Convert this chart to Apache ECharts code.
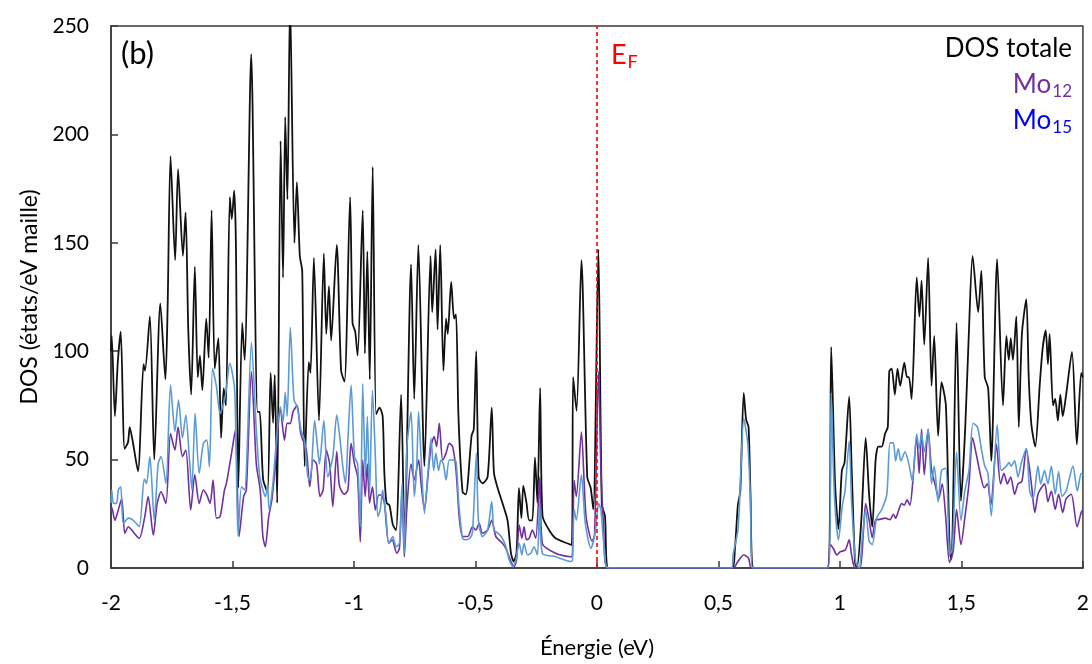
<!DOCTYPE html>
<html>
<head>
<meta charset="utf-8">
<script src="https://cdn.jsdelivr.net/npm/echarts@6/dist/echarts.min.js"></script>
<style>
html,body{margin:0;padding:0;background:#fff;}
#chart{width:1092px;height:664px;}
</style>
</head>
<body>
<div id="chart"></div>
<script>
// Energy (eV), DOS (états/eV maille) pairs
var xTicks = [-2, -1.5, -1, -0.5, 0, 0.5, 1, 1.5, 2];
var yTicks = [0, 50, 100, 150, 200, 250];

var dosTotale = [
[-2.0,100],[-1.997,107],[-1.984,70],[-1.972,95],[-1.960,109],[-1.944,55],[-1.930,58],[-1.923,65],[-1.910,58],[-1.889,44.7],
[-1.866,94],[-1.860,91],[-1.840,116],[-1.822,50],[-1.797,122],[-1.776,87],[-1.767,120],[-1.755,190],[-1.736,142],[-1.724,184],
[-1.704,144],[-1.693,164],[-1.682,110],[-1.670,80],[-1.655,139],[-1.643,88],[-1.634,98],[-1.624,82],[-1.608,115],[-1.598,97],
[-1.586,165],[-1.573,92],[-1.558,106],[-1.547,60],[-1.536,83],[-1.527,75],[-1.511,171],[-1.503,161],[-1.493,174],[-1.486,150],
[-1.476,37],[-1.460,113],[-1.450,96],[-1.423,237],[-1.397,72],[-1.388,72],[-1.374,41],[-1.356,35],[-1.343,90],[-1.333,67],
[-1.326,89],[-1.316,30],[-1.302,197],[-1.292,134],[-1.283,208],[-1.274,170],[-1.263,262],[-1.245,150],[-1.235,178],[-1.223,144],
[-1.213,137],[-1.203,47],[-1.186,95],[-1.179,90],[-1.165,143],[-1.144,68],[-1.124,145],[-1.114,108],[-1.103,130],[-1.094,105],
[-1.071,149],[-1.053,91],[-1.039,86],[-1.016,171],[-1.006,113],[-0.995,109],[-0.985,98],[-0.964,165],[-0.955,99],[-0.945,146],
[-0.935,87],[-0.923,185],[-0.909,71],[-0.895,74],[-0.882,70],[-0.875,44],[-0.866,30],[-0.854,29],[-0.840,20],[-0.827,17.5],
[-0.806,80],[-0.792,13],[-0.765,140],[-0.752,78],[-0.735,149],[-0.710,47],[-0.685,144],[-0.678,118],[-0.664,147],[-0.656,110],
[-0.645,149],[-0.632,91],[-0.621,115],[-0.614,108],[-0.600,132],[-0.588,115],[-0.580,117],[-0.570,70],[-0.553,35],[-0.540,34],
[-0.516,61],[-0.507,64],[-0.497,100],[-0.487,42],[-0.471,39],[-0.450,42],[-0.433,74],[-0.424,44],[-0.409,37],[-0.389,30],
[-0.368,22],[-0.354,7],[-0.343,3],[-0.331,7],[-0.321,37],[-0.311,23],[-0.303,38],[-0.290,30],[-0.279,22],[-0.266,22],
[-0.255,51],[-0.245,30],[-0.234,83],[-0.224,24],[-0.197,17.5],[-0.170,13.7],[-0.104,10.6],[-0.098,88],[-0.084,72.5],[-0.064,142],
[-0.040,42],[-0.026,37],[-0.015,27],[0.006,147],[0.020,29],[0.033,24],[0.047,0],[0.556,0],[0.567,7.5],[0.580,29],
[0.590,35.5],[0.604,80.8],[0.614,68.4],[0.624,65],[0.632,33.8],[0.645,0],[0.950,0],[0.964,102],[0.980,38.8],[0.994,18],
[1.008,45],[1.019,48.6],[1.038,79],[1.048,47],[1.062,2.6],[1.070,0],[1.088,22],[1.106,60],[1.120,34],[1.133,19],
[1.147,50],[1.158,56],[1.172,56],[1.186,62],[1.197,65],[1.203,90.6],[1.213,92],[1.226,80],[1.237,92],[1.248,84],
[1.265,94.7],[1.276,88],[1.284,88],[1.295,78],[1.316,134],[1.327,116],[1.336,132.5],[1.347,103],[1.363,143],[1.377,84],
[1.388,107],[1.404,61],[1.418,85.7],[1.436,75],[1.452,7.5],[1.459,4],[1.480,113],[1.498,31],[1.515,63],[1.531,109.6],
[1.546,144],[1.569,118],[1.582,137],[1.596,88],[1.610,83],[1.623,49.4],[1.647,142.5],[1.671,75],[1.685,107],[1.695,96],
[1.703,106],[1.712,96],[1.726,116],[1.736,65],[1.749,108],[1.767,124],[1.777,88],[1.788,66],[1.804,56],[1.822,84],
[1.834,101],[1.847,109.6],[1.856,94],[1.863,108],[1.877,75],[1.886,78],[1.897,68],[1.907,80],[1.917,70],[1.931,80],
[1.955,99.7],[1.975,57],[1.993,90],[2.0,88]
];

var dosMo12 = [
[-2.0,26],[-1.997,28],[-1.984,22],[-1.970,26.8],[-1.956,32],[-1.943,16],[-1.928,19],[-1.915,17.5],[-1.884,13.7],[-1.861,23.7],
[-1.847,33],[-1.826,15.2],[-1.810,29.8],[-1.794,35.2],[-1.774,29.8],[-1.755,62],[-1.737,54.4],[-1.724,65],[-1.706,51.4],[-1.692,54.4],
[-1.672,26.8],[-1.655,43],[-1.637,29.8],[-1.620,36],[-1.606,33.7],[-1.592,29.8],[-1.580,40.6],[-1.566,23],[-1.551,23.7],[-1.533,36],
[-1.525,39],[-1.506,51.4],[-1.488,63.7],[-1.473,14.5],[-1.454,33],[-1.443,36],[-1.422,90.6],[-1.402,48],[-1.386,36],[-1.375,14.5],
[-1.365,9.8],[-1.351,23.7],[-1.338,31.4],[-1.324,46.7],[-1.303,73.6],[-1.286,59],[-1.275,66.7],[-1.262,66.7],[-1.251,72],[-1.234,75],
[-1.219,62],[-1.196,54.4],[-1.182,37.5],[-1.168,49.8],[-1.154,48],[-1.140,33],[-1.127,36],[-1.114,54.4],[-1.100,48],[-1.087,28.3],
[-1.071,53.7],[-1.060,38],[-1.040,34],[-1.025,36],[-1.012,57.5],[-0.998,48],[-0.985,42],[-0.974,12],[-0.964,49.8],[-0.954,33],
[-0.945,48],[-0.936,30],[-0.924,37.5],[-0.912,26.8],[-0.898,33.7],[-0.888,33.7],[-0.875,30],[-0.857,11.4],[-0.843,13],[-0.824,6.8],
[-0.813,9],[-0.802,36],[-0.793,5.2],[-0.782,28.3],[-0.765,48],[-0.752,40.6],[-0.734,49.8],[-0.724,39],[-0.710,26.8],[-0.697,40.6],
[-0.683,56],[-0.670,60.6],[-0.660,56],[-0.649,66.7],[-0.635,49.8],[-0.621,53],[-0.608,57.5],[-0.594,56],[-0.580,45],[-0.567,23.7],
[-0.553,14.5],[-0.532,14.5],[-0.512,19],[-0.498,17.5],[-0.485,20.6],[-0.471,16],[-0.450,17.5],[-0.433,22],[-0.416,14.5],[-0.389,11.4],
[-0.375,9],[-0.354,3],[-0.341,0.6],[-0.331,3.7],[-0.320,19.8],[-0.309,13.7],[-0.300,19],[-0.290,13],[-0.279,13.7],[-0.266,17.5],
[-0.252,13.7],[-0.235,42],[-0.225,11.4],[-0.170,6.8],[-0.108,5.2],[-0.101,6],[-0.094,40.5],[-0.085,33],[-0.064,62.7],[-0.045,24],
[-0.020,12.4],[-0.010,15],[0.007,90.6],[0.016,47],[0.027,20],[0.043,0],[0.560,0],[0.580,3],[0.604,6],[0.624,4.5],
[0.637,0],[0.946,0],[0.960,10.8],[0.973,9],[0.987,6],[1.001,7.5],[1.022,8.3],[1.038,13],[1.048,6],[1.062,0],
[1.083,0],[1.097,17.4],[1.106,29.7],[1.120,22.3],[1.133,14],[1.147,22.3],[1.158,22.3],[1.186,23],[1.206,22.3],[1.220,24.8],
[1.229,23],[1.241,26.4],[1.254,29.7],[1.265,29],[1.276,31.4],[1.288,29],[1.300,40],[1.316,61],[1.326,43.7],[1.336,64],
[1.347,43],[1.363,64],[1.377,45.3],[1.391,38.8],[1.407,32],[1.421,38.8],[1.435,24],[1.451,2.6],[1.466,7.5],[1.480,27],
[1.498,10.8],[1.515,24],[1.531,38.8],[1.546,60],[1.562,52],[1.580,42],[1.594,37],[1.607,38.8],[1.621,29],[1.644,57],
[1.661,38.8],[1.675,43.7],[1.689,38.8],[1.703,42],[1.719,34],[1.733,38.8],[1.749,40],[1.767,55],[1.788,38.8],[1.802,25.6],
[1.815,34],[1.829,37],[1.843,38.8],[1.856,30.5],[1.870,35.5],[1.886,27],[1.900,34],[1.917,25.6],[1.931,32],[1.952,34],
[1.976,19],[1.993,25.6],[2.0,27]
];

var dosMo15 = [
[-2.0,30],[-1.997,36],[-1.990,29.8],[-1.977,29.8],[-1.970,36],[-1.960,37.5],[-1.949,20.6],[-1.928,23],[-1.908,22],[-1.884,19],
[-1.863,41],[-1.854,39],[-1.840,51.4],[-1.822,22],[-1.806,48],[-1.794,51.4],[-1.774,39],[-1.755,84.4],[-1.737,63],[-1.722,77.5],
[-1.706,60],[-1.692,70.6],[-1.678,51.4],[-1.667,36],[-1.654,71.3],[-1.637,43.7],[-1.620,57.5],[-1.606,59],[-1.595,46.7],[-1.582,92],
[-1.566,83.6],[-1.551,71.3],[-1.530,79],[-1.511,94.4],[-1.491,82],[-1.477,14.5],[-1.463,37.5],[-1.450,36],[-1.422,104],[-1.402,63.7],
[-1.388,42],[-1.375,36],[-1.364,33],[-1.356,38],[-1.349,26.8],[-1.335,37.5],[-1.303,74.4],[-1.292,67.5],[-1.283,81],[-1.275,70],
[-1.262,111],[-1.247,77.5],[-1.234,74.4],[-1.218,63.7],[-1.204,59],[-1.190,42],[-1.180,40.6],[-1.162,68],[-1.149,54.4],[-1.142,48],
[-1.124,68],[-1.108,42],[-1.087,51.4],[-1.071,70.6],[-1.057,59],[-1.046,46.7],[-1.035,39],[-1.025,59],[-1.012,84.4],[-0.998,51.4],
[-0.985,48],[-0.974,19],[-0.964,85],[-0.953,42],[-0.945,70],[-0.936,34.4],[-0.924,82],[-0.912,51.4],[-0.902,23.7],[-0.892,26.8],
[-0.882,36],[-0.868,23.7],[-0.857,11.4],[-0.840,14.5],[-0.827,9.8],[-0.813,11.4],[-0.802,39],[-0.793,6.8],[-0.782,56],[-0.765,72],
[-0.752,33],[-0.742,46.7],[-0.734,72],[-0.724,51.4],[-0.710,25.2],[-0.697,42],[-0.683,59.8],[-0.672,45],[-0.663,53],[-0.652,45],
[-0.642,49.8],[-0.632,48],[-0.621,40.6],[-0.608,49.8],[-0.594,49.8],[-0.580,49],[-0.569,30],[-0.553,13.7],[-0.539,13],[-0.523,13.7],
[-0.512,16.8],[-0.496,53],[-0.488,22],[-0.471,14.5],[-0.450,17.5],[-0.433,30.6],[-0.424,17.5],[-0.406,16],[-0.389,13.7],[-0.375,9.8],
[-0.361,3.7],[-0.345,0.6],[-0.334,3.7],[-0.320,11.4],[-0.309,6],[-0.300,11.4],[-0.286,6],[-0.272,6.8],[-0.259,9.8],[-0.245,6],
[-0.236,30],[-0.225,6.8],[-0.170,5.2],[-0.108,3],[-0.101,3.5],[-0.094,27],[-0.085,22],[-0.064,43],[-0.048,20.7],[-0.025,9],
[-0.008,16],[0.007,29.7],[0.016,27],[0.030,9],[0.047,0],[0.556,0],[0.560,6],[0.580,17.5],[0.590,38.7],[0.604,69],
[0.621,57],[0.632,30],[0.641,0],[0.952,0],[0.964,80.7],[0.977,34],[0.994,13],[1.010,29],[1.021,35.5],[1.038,58.5],
[1.048,30.5],[1.065,2.6],[1.079,0],[1.092,14],[1.106,27],[1.120,12.4],[1.133,10.8],[1.151,23],[1.172,27],[1.193,34],
[1.206,57.7],[1.220,57.7],[1.229,49.4],[1.240,55],[1.251,49.4],[1.268,53.6],[1.284,47.8],[1.298,40],[1.316,61.8],[1.326,55],
[1.336,61.8],[1.347,53.6],[1.363,64],[1.377,38.8],[1.388,47],[1.404,30.5],[1.418,45],[1.436,46],[1.452,6],[1.463,9],
[1.480,53.6],[1.498,22],[1.514,35.5],[1.531,45],[1.548,66.8],[1.566,65],[1.582,55],[1.596,47],[1.609,43.7],[1.623,24],
[1.647,66],[1.664,45],[1.685,47],[1.696,48.6],[1.705,47],[1.719,49.4],[1.733,42],[1.747,48.6],[1.767,55],[1.781,35.5],
[1.795,32],[1.815,47],[1.826,38.8],[1.842,45],[1.856,38.8],[1.870,47],[1.886,34],[1.900,44.5],[1.914,33],[1.931,35.5],
[1.959,47],[1.977,35.5],[1.993,43.7],[2.0,43]
];

var fermiEnergy = 0;

var FONT = 'Lato, "Open Sans", sans-serif';
var chart = echarts.init(document.getElementById('chart'), null, {renderer: 'canvas'});
var frame = '#3a3a3a';

chart.setOption({
  animation: false,
  backgroundColor: '#ffffff',
  grid: {left: 111, right: 7, top: 26, bottom: 96, show: true, borderColor: frame, borderWidth: 1.5, backgroundColor: 'transparent'},
  xAxis: {
    type: 'value', min: xTicks[0], max: xTicks[xTicks.length - 1], interval: 0.5,
    axisLine: {show: true, onZero: false, lineStyle: {color: frame, width: 1.5}},
    axisTick: {show: true, inside: true, length: 7, lineStyle: {color: frame, width: 1.5}},
    splitLine: {show: false},
    axisLabel: {margin: 25, color: '#000', fontSize: 21, fontFamily: FONT,
      formatter: function (v) { return String(v).replace('.', ','); }},
    name: 'Énergie (eV)', nameLocation: 'middle', nameGap: 69,
    nameTextStyle: {color: '#000', fontSize: 22, fontFamily: FONT}
  },
  yAxis: {
    type: 'value', min: yTicks[0], max: yTicks[yTicks.length - 1], interval: 50,
    axisLine: {show: true, onZero: false, lineStyle: {color: frame, width: 1.5}},
    axisTick: {show: true, inside: true, length: 7, lineStyle: {color: frame, width: 1.5}},
    splitLine: {show: false},
    axisLabel: {margin: 22, color: '#000', fontSize: 21, fontFamily: FONT},
    name: 'DOS (états/eV maille)', nameLocation: 'middle', nameGap: 70,
    nameTextStyle: {color: '#000', fontSize: 23, fontFamily: FONT}
  },
  series: [
    {name: 'DOS totale', type: 'line', data: dosTotale, symbol: 'none', smooth: 0.25,
      lineStyle: {color: '#111111', width: 1.8}, z: 2},
    {name: 'Mo12', type: 'line', data: dosMo12, symbol: 'none', smooth: 0.25,
      lineStyle: {color: '#7030A0', width: 1.6}, z: 3},
    {name: 'Mo15', type: 'line', data: dosMo15, symbol: 'none', smooth: 0.25,
      lineStyle: {color: '#5B9BD5', width: 1.6}, z: 4,
      markLine: {silent: true, symbol: 'none', label: {show: false}, animation: false, z: 10,
        lineStyle: {color: '#FF0000', type: [4, 3], width: 1.6, opacity: 1},
        emphasis: {disabled: true},
        data: [{xAxis: fermiEnergy}]}}
  ],
  graphic: [
    {type: 'text', left: 121, top: 38, z: 10,
      style: {text: '(b)', fill: '#000', font: '31px ' + FONT}},
    {type: 'text', left: 611, top: 42, z: 10,
      style: {text: '{a|E}{b|F}', rich: {
        a: {fill: '#FF0000', fontSize: 27, fontFamily: FONT},
        b: {fill: '#FF0000', fontSize: 18, fontFamily: FONT, padding: [14, 0, 0, 1]}}}},
    {type: 'text', right: 20, top: 36, z: 10,
      style: {text: 'DOS totale', fill: '#000', font: '26px ' + FONT}},
    {type: 'text', right: 20, top: 72, z: 10,
      style: {text: '{a|Mo}{b|12}', rich: {
        a: {fill: '#7030A0', fontSize: 26, fontFamily: FONT},
        b: {fill: '#7030A0', fontSize: 17, fontFamily: FONT, padding: [14, 0, 0, 1]}}}},
    {type: 'text', right: 20, top: 108, z: 10,
      style: {text: '{a|Mo}{b|15}', rich: {
        a: {fill: '#0000FF', fontSize: 26, fontFamily: FONT},
        b: {fill: '#0000FF', fontSize: 17, fontFamily: FONT, padding: [14, 0, 0, 1]}}}}
  ]
});
</script>
</body>
</html>
